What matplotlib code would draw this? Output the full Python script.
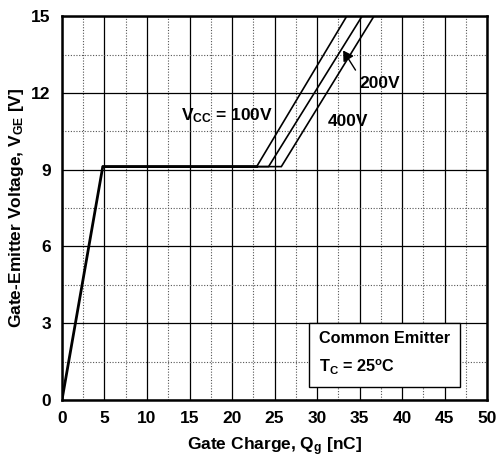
import matplotlib.pyplot as plt
from matplotlib.ticker import MultipleLocator

plt.rcParams['font.family'] = ['Liberation Sans', 'DejaVu Sans']
plt.rcParams['font.weight'] = 'bold'
plt.rcParams['mathtext.fontset'] = 'custom'
plt.rcParams['mathtext.rm'] = 'Liberation Sans:bold'
plt.rcParams['mathtext.bf'] = 'Liberation Sans:bold'
plt.rcParams['mathtext.it'] = 'Liberation Sans:bold'
plt.rcParams['mathtext.default'] = 'rm'

# gate charge curves
qg_common = [0, 4.8]
vge_common = [0, 9.12]
plateau_v = 9.12
plateau_end = {'100V': 22.9, '200V': 24.3, '400V': 25.8}
top_q = {'100V': 33.5, '200V': 35.3, '400V': 36.7}
top_v = 15

fig = plt.figure(figsize=(4.97, 4.61), dpi=100)
ax = fig.add_axes([0.1247, 0.1323, 0.8553, 0.8327])

for k in plateau_end:
    ax.plot([qg_common[1], plateau_end[k], top_q[k]], [plateau_v, plateau_v, top_v],
            color='black', lw=1.2, solid_joinstyle='miter')
ax.plot(qg_common + [plateau_end['100V']], vge_common + [plateau_v], color='black', lw=2.0)

ax.set_xlim(0, 50)
ax.set_ylim(0, 15)
ax.xaxis.set_major_locator(MultipleLocator(5))
ax.xaxis.set_minor_locator(MultipleLocator(2.5))
ax.yaxis.set_major_locator(MultipleLocator(3))
ax.yaxis.set_minor_locator(MultipleLocator(1.5))
ax.grid(which='major', color='black', lw=0.9, ls='-')
ax.grid(which='minor', color='#555555', lw=0.8, ls=(0, (1, 1.5)))
ax.tick_params(which='both', length=0, labelsize=12.5, pad=8)
for s in ax.spines.values():
    s.set_linewidth(1.8)

ax.set_xlabel('Gate Charge, Q$_g$ [nC]', fontsize=12.5, fontweight='bold', labelpad=7)
ax.set_ylabel('Gate-Emitter Voltage, V$_{GE}$ [V]', fontsize=12.5, fontweight='bold', labelpad=4)

ax.text(14.0, 11.1, 'V$_{CC}$ = 100V', fontsize=12.5, fontweight='bold', va='center')
ax.text(35.0, 12.35, '200V', fontsize=12.5, fontweight='bold', va='center')
ax.text(31.3, 10.9, '400V', fontsize=12.5, fontweight='bold', va='center')
ax.annotate('', xy=(32.9, 13.75), xytext=(34.7, 12.8),
            arrowprops=dict(arrowstyle='-|>,head_length=0.5,head_width=0.3',
                            color='black', lw=1.0, mutation_scale=12))

ax.text(30.2, 1.8, 'Common Emitter\n\nT$_C$ = 25$^o$C', fontsize=11.7, fontweight='bold',
        va='center', ha='left', linespacing=0.9,
        bbox=dict(boxstyle='square,pad=0.6', fc='white', ec='black', lw=1.0))

fig.savefig('out.png')
